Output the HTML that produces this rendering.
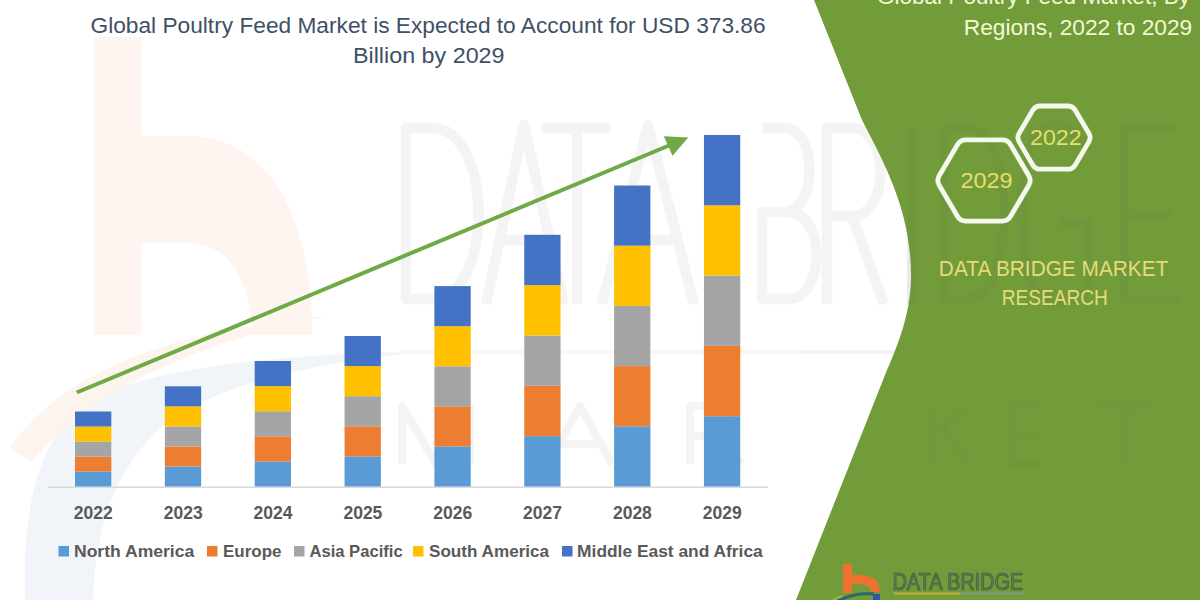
<!DOCTYPE html>
<html><head><meta charset="utf-8">
<style>
html,body{margin:0;padding:0;background:#fff;width:1200px;height:600px;overflow:hidden}
svg{display:block}
text{font-family:"Liberation Sans",sans-serif}
</style></head>
<body>
<svg width="1200" height="600" viewBox="0 0 1200 600">
<rect x="0" y="0" width="1200" height="600" fill="#ffffff"/>
<g id="wm">
<rect x="94" y="37" width="47" height="298" fill="#FEF5F0"/>
<path d="M141,136 L188,136 C265,136 312,210 312,335 L252,335 C252,280 228,243 188,243 L141,243 Z" fill="#FEF5F0"/>
<path d="M25,600 C22,500 40,420 110,390 C200,360 330,352 430,352 C320,360 220,385 170,420 C120,460 95,520 93,600 Z" fill="#F1F4F8"/>
<path d="M10,448 C60,378 150,333 330,316 C180,345 80,400 32,462 Z" fill="#FEF4EE"/>
<rect x="400" y="350" width="400" height="4" fill="#FDF5EE"/><rect x="800" y="350" width="100" height="4" fill="#F3F5F7"/>
<g fill="none" stroke="#F4F4F4" stroke-width="10.5" stroke-linejoin="round">
<path d="M406,128 H432 C494,128 494,299 432,299 H406 Z"/>
<path d="M486,304 L524,125 L564,304 M500,240 H550"/>
<path d="M542,128 H610 M577,128 V304"/>
<path d="M602,304 L648,125 L694,304 M616,240 H680"/>
<path d="M762,128 H784 C818,128 818,212 784,212 H762 M762,212 H788 C826,212 826,299 788,299 H762 Z"/>
<path d="M827,304 V128 H852 C890,128 890,216 852,216 H827 M852,216 L884,304"/>
<path d="M912,128 V304"/>
<path d="M940,128 H966 C1016,128 1016,299 966,299 H940 Z"/>
</g>
<g fill="none" stroke="#F4F4F4" stroke-width="8" stroke-linejoin="round">
<path d="M402,464 V406 L436,464 L470,406 V464"/>
<path d="M548,464 L580,406 L612,464 M560,444 H600"/>
<path d="M690,464 V406 H715 C740,406 740,436 715,436 H690 M712,436 L742,464"/>
</g>
</g>
<g fill="#405066" font-size="22.8">
<text x="90.51" y="32.5" textLength="675.12" lengthAdjust="spacingAndGlyphs">Global Poultry Feed Market is Expected to Account for USD 373.86</text>
<text x="352.96" y="62.7" textLength="151.56" lengthAdjust="spacingAndGlyphs">Billion by 2029</text>
</g>
<rect x="48" y="486.5" width="720" height="1.5" fill="#D9D9D9"/>
<g id="bars">
<rect x="75.0" y="471.50" width="36.3" height="15.00" fill="#5B9BD5"/>
<rect x="75.0" y="456.50" width="36.3" height="15.00" fill="#ED7D31"/>
<rect x="75.0" y="441.50" width="36.3" height="15.00" fill="#A5A5A5"/>
<rect x="75.0" y="426.50" width="36.3" height="15.00" fill="#FFC000"/>
<rect x="75.0" y="411.50" width="36.3" height="15.00" fill="#4472C4"/>
<rect x="164.85" y="466.46" width="36.3" height="20.04" fill="#5B9BD5"/>
<rect x="164.85" y="446.42" width="36.3" height="20.04" fill="#ED7D31"/>
<rect x="164.85" y="426.38" width="36.3" height="20.04" fill="#A5A5A5"/>
<rect x="164.85" y="406.34" width="36.3" height="20.04" fill="#FFC000"/>
<rect x="164.85" y="386.30" width="36.3" height="20.04" fill="#4472C4"/>
<rect x="254.7" y="461.40" width="36.3" height="25.10" fill="#5B9BD5"/>
<rect x="254.7" y="436.30" width="36.3" height="25.10" fill="#ED7D31"/>
<rect x="254.7" y="411.20" width="36.3" height="25.10" fill="#A5A5A5"/>
<rect x="254.7" y="386.10" width="36.3" height="25.10" fill="#FFC000"/>
<rect x="254.7" y="361.00" width="36.3" height="25.10" fill="#4472C4"/>
<rect x="344.55" y="456.40" width="36.3" height="30.10" fill="#5B9BD5"/>
<rect x="344.55" y="426.30" width="36.3" height="30.10" fill="#ED7D31"/>
<rect x="344.55" y="396.20" width="36.3" height="30.10" fill="#A5A5A5"/>
<rect x="344.55" y="366.10" width="36.3" height="30.10" fill="#FFC000"/>
<rect x="344.55" y="336.00" width="36.3" height="30.10" fill="#4472C4"/>
<rect x="434.4" y="446.42" width="36.3" height="40.08" fill="#5B9BD5"/>
<rect x="434.4" y="406.34" width="36.3" height="40.08" fill="#ED7D31"/>
<rect x="434.4" y="366.26" width="36.3" height="40.08" fill="#A5A5A5"/>
<rect x="434.4" y="326.18" width="36.3" height="40.08" fill="#FFC000"/>
<rect x="434.4" y="286.10" width="36.3" height="40.08" fill="#4472C4"/>
<rect x="524.25" y="436.16" width="36.3" height="50.34" fill="#5B9BD5"/>
<rect x="524.25" y="385.82" width="36.3" height="50.34" fill="#ED7D31"/>
<rect x="524.25" y="335.48" width="36.3" height="50.34" fill="#A5A5A5"/>
<rect x="524.25" y="285.14" width="36.3" height="50.34" fill="#FFC000"/>
<rect x="524.25" y="234.80" width="36.3" height="50.34" fill="#4472C4"/>
<rect x="614.1" y="426.30" width="36.3" height="60.20" fill="#5B9BD5"/>
<rect x="614.1" y="366.10" width="36.3" height="60.20" fill="#ED7D31"/>
<rect x="614.1" y="305.90" width="36.3" height="60.20" fill="#A5A5A5"/>
<rect x="614.1" y="245.70" width="36.3" height="60.20" fill="#FFC000"/>
<rect x="614.1" y="185.50" width="36.3" height="60.20" fill="#4472C4"/>
<rect x="703.95" y="416.20" width="36.3" height="70.30" fill="#5B9BD5"/>
<rect x="703.95" y="345.90" width="36.3" height="70.30" fill="#ED7D31"/>
<rect x="703.95" y="275.60" width="36.3" height="70.30" fill="#A5A5A5"/>
<rect x="703.95" y="205.30" width="36.3" height="70.30" fill="#FFC000"/>
<rect x="703.95" y="135.00" width="36.3" height="70.30" fill="#4472C4"/>
</g>
<line x1="76.7" y1="392.5" x2="669" y2="145.5" stroke="#6EAA45" stroke-width="4"/>
<polygon points="688.3,137.5 663.75,136.25 672.5,155.8" fill="#6EAA45"/>
<g fill="#595959" font-size="17.5" font-weight="bold" text-anchor="middle">
<text x="93.3" y="519">2022</text>
<text x="183.2" y="519">2023</text>
<text x="273.0" y="519">2024</text>
<text x="362.9" y="519">2025</text>
<text x="452.7" y="519">2026</text>
<text x="542.5" y="519">2027</text>
<text x="632.4" y="519">2028</text>
<text x="722.2" y="519">2029</text>
</g>
<g fill="#595959" font-size="17.3" font-weight="bold">
<rect x="58.5" y="546" width="10.5" height="10.5" fill="#5B9BD5"/>
<text x="73.98" y="556.7" textLength="120.25" lengthAdjust="spacingAndGlyphs">North America</text>
<rect x="207" y="546" width="10.5" height="10.5" fill="#ED7D31"/>
<text x="223.02" y="556.7" textLength="58.50" lengthAdjust="spacingAndGlyphs">Europe</text>
<rect x="294" y="546" width="10.5" height="10.5" fill="#A5A5A5"/>
<text x="309.43" y="556.7" textLength="93.20" lengthAdjust="spacingAndGlyphs">Asia Pacific</text>
<rect x="413" y="546" width="10.5" height="10.5" fill="#FFC000"/>
<text x="429.01" y="556.7" textLength="120.13" lengthAdjust="spacingAndGlyphs">South America</text>
<rect x="562" y="546" width="10.5" height="10.5" fill="#4472C4"/>
<text x="577.09" y="556.7" textLength="185.71" lengthAdjust="spacingAndGlyphs">Middle East and Africa</text>
</g>
<path d="M814,0 L862,120 C888,170 912,215 911,280 C910,315 898,345 885,375 L796,600 L1200,600 L1200,0 Z" fill="#729C39"/>
<g fill="none" stroke="#5F6F5F" stroke-opacity="0.09" stroke-width="9" stroke-linejoin="round">
<path d="M912,128 V304"/>
<path d="M945,128 H968 C1016,128 1016,299 968,299 H945 Z"/>
<path d="M1088,150 C1075,128 1060,125 1055,125 C1025,125 1022,170 1022,215 C1022,260 1030,302 1058,302 C1075,302 1088,290 1088,290 V222 H1058"/>
<path d="M1178,128 H1124 V299 H1180 M1124,214 H1172"/>
</g>
<g fill="none" stroke="#5F6F5F" stroke-opacity="0.07" stroke-width="7" stroke-linejoin="round">
<path d="M930,464 V406 M930,436 L965,406 M942,426 L968,464"/>
<path d="M1040,406 H1010 V464 H1040 M1010,434 H1036"/>
<path d="M1100,406 H1150 M1125,406 V464"/>
</g>
<g fill="#F3F9D6" font-size="22.6">
<text x="877.00" y="4.3" textLength="312.94" lengthAdjust="spacingAndGlyphs">Global Poultry Feed Market, By</text>
<text x="963.79" y="34.7" textLength="228.39" lengthAdjust="spacingAndGlyphs">Regions, 2022 to 2029</text>
</g>
<g fill="none" stroke="#F5F8EC" stroke-width="4.8">
<path d="M1028.81,175.76 Q1031.60,180.50 1028.81,185.24 L1010.59,216.29 Q1007.80,221.03 1002.30,221.03 L965.70,221.03 Q960.20,221.03 957.41,216.29 L939.19,185.24 Q936.40,180.50 939.19,175.76 L957.41,144.71 Q960.20,139.97 965.70,139.97 L1002.30,139.97 Q1007.80,139.97 1010.59,144.71 Z"/>
<path d="M1088.85,133.30 Q1091.40,137.60 1088.85,141.90 L1075.25,164.91 Q1072.70,169.21 1067.70,169.21 L1040.30,169.21 Q1035.30,169.21 1032.75,164.91 L1019.15,141.90 Q1016.60,137.60 1019.15,133.30 L1032.75,110.29 Q1035.30,105.99 1040.30,105.99 L1067.70,105.99 Q1072.70,105.99 1075.25,110.29 Z"/>
</g>
<g fill="#E6DE6E" font-size="22">
<text x="960.42" y="188" textLength="52.09" lengthAdjust="spacingAndGlyphs">2029</text>
<text x="1030.12" y="145.3" textLength="51.47" lengthAdjust="spacingAndGlyphs">2022</text>
</g>
<g fill="#E5DB7A" font-size="21.5">
<text x="938.85" y="276" textLength="229.48" lengthAdjust="spacingAndGlyphs">DATA BRIDGE MARKET</text>
<text x="1001.66" y="305.2" textLength="106.22" lengthAdjust="spacingAndGlyphs">RESEARCH</text>
</g>
<g id="logo">
<rect x="843" y="564" width="9" height="29" fill="#F07030"/>
<path d="M852,575 L858,575 Q880,575 880,592 L871,592 Q871,584 858,584 L852,584 Z" fill="#F07030"/>
<path d="M838,601 Q855,592 874,594" fill="none" stroke="#2F6A6A" stroke-width="3.2"/><path d="M832,601 Q836,598 842,596" fill="none" stroke="#B8B060" stroke-width="1.5"/>
<rect x="873" y="594" width="7" height="6" fill="#2F56A0"/>
<text x="892.38" y="590.2" textLength="130.75" lengthAdjust="spacingAndGlyphs" font-size="23.9" fill="#66805A" stroke="#3E4E38" stroke-width="0.7">DATA BRIDGE</text>
<rect x="894" y="592.5" width="66" height="2" fill="#C0B040"/>
<rect x="960" y="592.5" width="64" height="2" fill="#7E9E80"/>
</g>
</svg>
</body></html>
